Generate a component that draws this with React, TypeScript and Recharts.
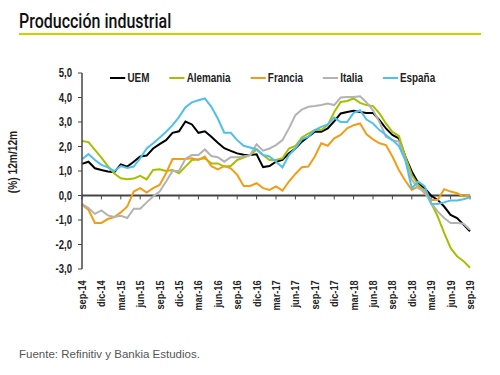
import { LineChart, Line, XAxis, YAxis, ReferenceLine, Label } from 'recharts';

const meses = [
  'sep-14', 'oct-14', 'nov-14', 'dic-14', 'ene-15', 'feb-15', 'mar-15', 'abr-15', 'may-15', 'jun-15', 'jul-15', 'ago-15',
  'sep-15', 'oct-15', 'nov-15', 'dic-15', 'ene-16', 'feb-16', 'mar-16', 'abr-16', 'may-16', 'jun-16', 'jul-16', 'ago-16',
  'sep-16', 'oct-16', 'nov-16', 'dic-16', 'ene-17', 'feb-17', 'mar-17', 'abr-17', 'may-17', 'jun-17', 'jul-17', 'ago-17',
  'sep-17', 'oct-17', 'nov-17', 'dic-17', 'ene-18', 'feb-18', 'mar-18', 'abr-18', 'may-18', 'jun-18', 'jul-18', 'ago-18',
  'sep-18', 'oct-18', 'nov-18', 'dic-18', 'ene-19', 'feb-19', 'mar-19', 'abr-19', 'may-19', 'jun-19', 'jul-19', 'ago-19',
  'sep-19',
];

const uem = [
  1.29, 1.38, 1.11, 1.04, 0.98, 0.95, 1.27, 1.18, 1.38, 1.59, 1.63, 1.92,
  2.1, 2.26, 2.56, 2.62, 3.02, 2.9, 2.56, 2.62, 2.4, 2.15, 1.93, 1.82,
  1.72, 1.66, 1.65, 1.68, 1.16, 1.2, 1.38, 1.45, 1.72, 1.92, 2.2, 2.4,
  2.6, 2.6, 2.74, 3.03, 3.35, 3.41, 3.46, 3.41, 3.37, 3.37, 3.08, 2.74,
  2.47, 2.33, 1.59, 0.98, 0.5, 0.3, -0.01, -0.18, -0.45, -0.79, -0.92, -1.19,
  -1.46,
];

const alemania = [
  2.22, 2.18, 1.86, 1.55, 1.2, 0.9, 0.7, 0.66, 0.69, 0.8, 0.66, 1.04,
  1.07, 1.0, 1.04, 0.91, 1.18, 1.45, 1.48, 1.52, 1.31, 1.31, 1.18, 1.2,
  1.45, 1.55, 1.65, 1.88, 1.65, 1.45, 1.45, 1.52, 1.92, 2.02, 2.37, 2.53,
  2.67, 2.67, 2.87, 3.41, 3.82, 3.86, 3.96, 3.78, 3.69, 3.65, 3.35, 2.94,
  2.6, 2.43, 1.59, 0.84, 0.43, 0.16, -0.31, -0.85, -1.53, -2.14, -2.48, -2.68,
  -2.95,
];

const francia = [
  -0.38, -0.58, -1.12, -1.12, -0.96, -0.88, -0.69, -0.45, 0.16, 0.3, 0.12, 0.3,
  0.43, 0.91, 1.49, 1.49, 1.49, 1.52, 1.45, 1.59, 1.2, 1.07, 1.2, 1.11,
  0.84, 0.39, 0.39, 0.5, 0.3, 0.23, 0.37, 0.2, 0.57, 0.88, 1.15, 1.18,
  1.59, 2.13, 2.03, 2.33, 2.47, 2.74, 2.87, 2.94, 2.5, 2.29, 2.13, 2.06,
  1.59, 1.04, 0.6, 0.23, 0.37, 0.09, -0.18, -0.18, 0.26, 0.16, 0.09, -0.04,
  0.03,
];

const italia = [
  -0.34, -0.51, -0.75, -0.61, -0.81, -0.88, -0.83, -0.92, -0.54, -0.54, -0.28, -0.04,
  0.16, 0.57, 1.0, 1.0, 1.5, 1.65, 1.65, 1.88, 1.61, 1.56, 1.38, 1.56,
  1.56, 1.59, 1.65, 2.09, 1.83, 1.92, 2.06, 2.26, 2.74, 3.28, 3.51, 3.62,
  3.65, 3.69, 3.75, 3.69, 4.0, 4.02, 4.02, 4.05, 3.8, 3.48, 3.0, 2.4,
  2.26, 2.2, 1.45, 0.64, 0.3, 0.16, -0.31, -0.65, -0.92, -1.12, -1.12, -1.15,
  -1.4,
];

const espana = [
  1.48, 1.69, 1.45, 1.25, 1.15, 1.0, 1.2, 1.12, 1.18, 1.52, 1.92, 2.13,
  2.36, 2.6, 2.87, 3.2, 3.6, 3.8, 3.89, 3.96, 3.62, 3.14, 2.56, 2.56,
  2.26, 2.03, 1.96, 1.88, 1.65, 1.59, 1.38, 1.15, 1.65, 1.92, 2.29, 2.4,
  2.67, 2.8, 2.9, 3.18, 3.0, 3.0, 3.37, 3.48, 3.1, 2.94, 2.67, 2.47,
  2.26, 2.02, 1.45, 0.3, 0.57, 0.37, -0.34, -0.35, -0.28, -0.2, -0.2, -0.15,
  -0.07,
];

const yTicks = [-3, -2, -1, 0, 1, 2, 3, 4, 5];

const series = [
  { key: 'uem', name: 'UEM', color: '#000000', values: uem },
  { key: 'alemania', name: 'Alemania', color: '#a6bf00', values: alemania },
  { key: 'francia', name: 'Francia', color: '#f29d17', values: francia },
  { key: 'italia', name: 'Italia', color: '#b3b3b3', values: italia },
  { key: 'espana', name: 'España', color: '#4fc0ea', values: espana },
];

const data = meses.map((mes, i) => {
  const row: Record<string, string | number> = { mes };
  series.forEach((s) => (row[s.key] = s.values[i]));
  return row;
});

const tickMeses = meses.filter((_, i) => i % 3 === 0);

const sans = "'Liberation Sans', Arial, sans-serif";

function MesTick({ x, y, payload }: any) {
  return (
    <text
      x={0}
      y={0}
      transform={`translate(${x},${y}) rotate(-90) scale(0.84,1)`}
      textAnchor="end"
      dy={4}
      dx={-4}
      fontSize={11}
      fontWeight="bold"
      fill="#222"
      fontFamily={sans}
    >
      {payload.value}
    </text>
  );
}

function ValorTick({ x, y, payload }: any) {
  return (
    <text
      x={0}
      y={0}
      transform={`translate(${x},${y}) scale(0.8,1)`}
      textAnchor="end"
      dy={4}
      fontSize={12}
      fontWeight="bold"
      fill="#222"
      fontFamily={sans}
    >
      {payload.value.toFixed(1).replace('.', ',')}
    </text>
  );
}

export default function App() {
  return (
    <div style={{ position: 'absolute', left: 0, top: 0, width: 500, height: 375, background: '#fff' }}>
      <div
        style={{
          position: 'absolute',
          left: 19,
          top: 9,
          fontFamily: "Roboto, 'Liberation Sans', sans-serif",
          fontWeight: 500,
          fontSize: 20,
          color: '#111',
          transform: 'scaleX(0.8)',
          transformOrigin: 'left top',
          whiteSpace: 'nowrap',
        }}
      >
        Producción industrial
      </div>
      <div style={{ position: 'absolute', left: 19, top: 33, width: 462, height: 2, background: '#c8d400' }} />

      <LineChart width={500} height={375} data={data} margin={{ top: 73, right: 30, bottom: 0, left: 42 }}>
        <YAxis
          width={40}
          domain={[-3, 5]}
          ticks={yTicks}
          interval={0}
          tick={<ValorTick />}
          tickSize={4}
          tickMargin={6}
          tickLine={{ stroke: '#444' }}
          axisLine={{ stroke: '#444', strokeWidth: 1.5 }}
        >
          <Label
            content={() => (
              <text
                x={0}
                y={0}
                transform="translate(17,162) rotate(-90) scale(0.85,1)"
                textAnchor="middle"
                fontSize={12}
                fontWeight="bold"
                fill="#222"
                fontFamily={sans}
              >
                (%) 12m/12m
              </text>
            )}
          />
        </YAxis>
        <XAxis
          dataKey="mes"
          scale="point"
          padding={{ left: 0, right: 0 }}
          height={106}
          ticks={tickMeses}
          interval={0}
          tickLine={false}
          axisLine={false}
          tick={<MesTick />}
        />
        <ReferenceLine y={0} stroke="#444" strokeWidth={2} />
        {tickMeses.map((m) => (
          <ReferenceLine
            key={m}
            segment={[
              { x: m, y: 0 },
              { x: m, y: -0.16 },
            ]}
            stroke="#444"
            strokeWidth={1}
          />
        ))}
        {series.map((s) => (
          <Line
            key={s.key}
            dataKey={s.key}
            name={s.name}
            stroke={s.color}
            strokeWidth={2}
            dot={false}
            type="linear"
            isAnimationActive={false}
          />
        ))}
      </LineChart>

      <div
        style={{
          position: 'absolute',
          left: 110,
          top: 70,
          display: 'flex',
          fontFamily: sans,
          fontSize: 13,
          fontWeight: 'bold',
          color: '#222',
          transform: 'scaleX(0.76)',
          transformOrigin: 'left top',
          whiteSpace: 'nowrap',
        }}
      >
        {series.map((s) => (
          <div key={s.key} style={{ display: 'flex', alignItems: 'center', marginRight: 26 }}>
            <div style={{ width: 20, height: 2, background: s.color, marginRight: 3 }} />
            <span>{s.name}</span>
          </div>
        ))}
      </div>

      <div
        style={{
          position: 'absolute',
          left: 19,
          top: 348,
          fontFamily: sans,
          fontSize: 11.5,
          color: '#555',
        }}
      >
        Fuente: Refinitiv y Bankia Estudios.
      </div>
    </div>
  );
}
